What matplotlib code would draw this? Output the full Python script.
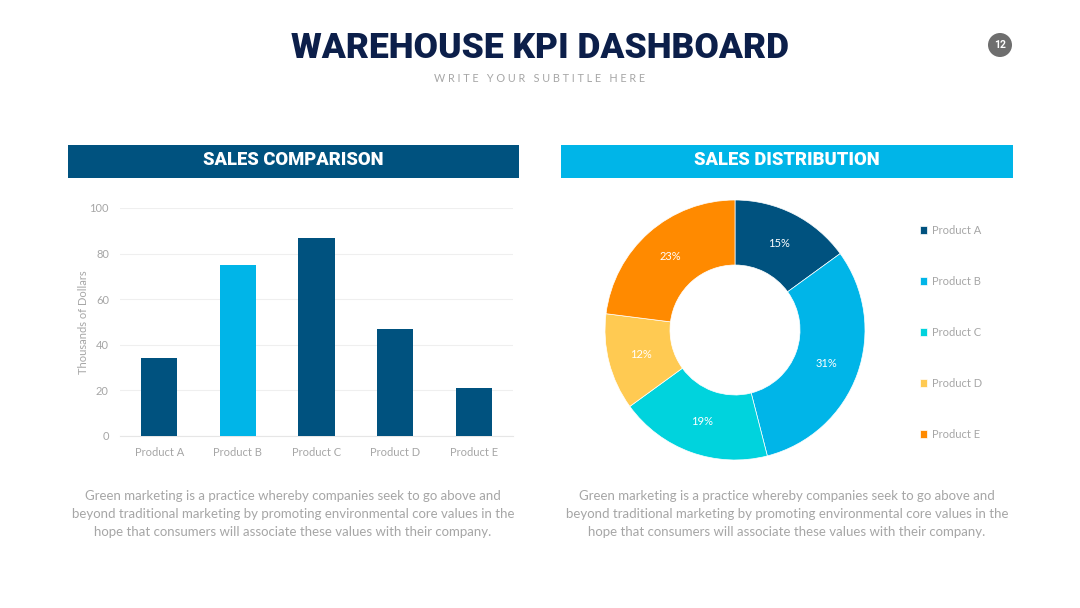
import matplotlib
matplotlib.use("Agg")
import matplotlib.pyplot as plt
from matplotlib.patches import Rectangle, Circle
import numpy as np

products = ["Product A", "Product B", "Product C", "Product D", "Product E"]
sales = [34, 75, 87, 47, 21]
share = [15, 31, 19, 12, 23]
yticks = [0, 20, 40, 60, 80, 100]

dark_blue = "#00527F"
light_blue = "#00B5E8"
bar_colors = [dark_blue, light_blue, dark_blue, dark_blue, dark_blue]
pie_colors = [dark_blue, light_blue, "#00D3DD", "#FFCA52", "#FF8A00"]
gray = "#A6A6A6"
body = ("Green marketing is a practice whereby companies seek to go above and\n"
        "beyond traditional marketing by promoting environmental core values in the\n"
        "hope that consumers will associate these values with their company.")

W, H = 1080, 608
fig = plt.figure(figsize=(W / 100, H / 100), dpi=100)
fig.patch.set_facecolor("white")

def fx(x):
    return x / W

def fy(y):
    return 1 - y / H

# title block
fig.text(fx(540), fy(48), "WAREHOUSE KPI DASHBOARD", ha="center", va="center",
         fontsize=25.5, fontweight="black", family="Roboto", color="#0C1F4A")
fig.text(fx(540), fy(79), "W R I T E   Y O U R   S U B T I T L E   H E R E",
         ha="center", va="center", fontsize=7.8, color=gray, family="Lato")
fig.patches.append(Circle((10.0, 6.08 - 0.45), 0.12, transform=fig.dpi_scale_trans,
                          facecolor="#6E6E6E", edgecolor="none"))
fig.text(fx(1000), fy(45), "12", ha="center", va="center", fontsize=7.5,
         color="white", fontweight="bold", family="Roboto")

# section headers
for x0, x1, col, label in [(68, 519, dark_blue, "SALES COMPARISON"),
                           (561, 1013, light_blue, "SALES DISTRIBUTION")]:
    fig.patches.append(Rectangle((fx(x0), fy(178)), fx(x1 - x0), 33 / H,
                                 transform=fig.transFigure, facecolor=col, edgecolor="none"))
    fig.text(fx((x0 + x1) / 2), fy(160), label, ha="center", va="center",
             fontsize=13.2, fontweight="black", family="Roboto", color="white")

# bar chart
ax = fig.add_axes([fx(120), fy(436), fx(393), (436 - 208) / H])
x = np.arange(len(products))
ax.bar(x, sales, width=0.46, color=bar_colors, zorder=3)
ax.set_xlim(-0.5, 4.5)
ax.set_ylim(0, 100)
ax.set_yticks(yticks)
ax.set_xticks(x)
ax.set_xticklabels(products)
ax.tick_params(length=0, labelsize=8, labelcolor=gray, pad=8)
for lab in ax.get_xticklabels() + ax.get_yticklabels():
    lab.set_family("Lato")
ax.grid(axis="y", color="#EFEFEF", linewidth=0.8, zorder=0)
for s in ["top", "right", "left"]:
    ax.spines[s].set_visible(False)
ax.spines["bottom"].set_color("#E6E6E6")
ax.set_ylabel("Thousands of Dollars", fontsize=8, color=gray, family="Lato", labelpad=0)

# donut
r_px = 140
cx, cy = 735, 330
ax2 = fig.add_axes([fx(cx - r_px), fy(cy + r_px), fx(2 * r_px), 2 * r_px / H])
wedges, texts, autotexts = ax2.pie(share, colors=pie_colors, startangle=90, counterclock=False,
                                   radius=1, wedgeprops=dict(width=0.5, edgecolor="white", linewidth=0.5),
                                   autopct="%d%%", pctdistance=0.75,
                                   textprops=dict(color="white", fontsize=8, family="Lato"))
lim = r_px / 130
ax2.set_xlim(-lim, lim)
ax2.set_ylim(-lim, lim)
ax2.set_aspect("equal")
ax2.axis("off")

leg = fig.legend(wedges, products, loc="upper left", bbox_to_anchor=(fx(920), fy(225)),
                 frameon=False, labelcolor=gray, handlelength=0.65, handleheight=0.65,
                 handletextpad=0.4, labelspacing=3.6, borderpad=0, borderaxespad=0,
                 prop=dict(family="Lato", size=8))

# body text
for xc in [293, 787]:
    fig.text(fx(xc), fy(514), body, ha="center", va="center", fontsize=9.5,
             color=gray, family="Lato", linespacing=1.6)

fig.savefig("out.png", dpi=100, facecolor="white")
